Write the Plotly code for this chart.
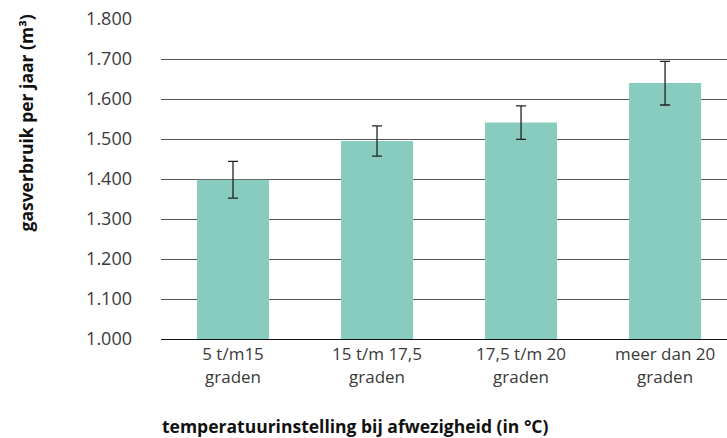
import plotly.graph_objects as go

categories = ["5 t/m15<br>graden", "15 t/m 17,5<br>graden", "17,5 t/m 20<br>graden", "meer dan 20<br>graden"]
values = [1398, 1495, 1541, 1640]
err_plus = [46, 38, 42, 54]
err_minus = [46, 38, 42, 55]
tick_vals = [1000, 1100, 1200, 1300, 1400, 1500, 1600, 1700, 1800]
tick_text = ["1.000", "1.100", "1.200", "1.300", "1.400", "1.500", "1.600", "1.700", "1.800"]

FONT = "Open Sans"

fig = go.Figure(go.Bar(
    x=list(range(len(categories))), y=values, base=0,
    marker=dict(color="#88cbbf", line=dict(width=0)),
    width=0.5,
    error_y=dict(type="data", symmetric=False, array=err_plus, arrayminus=err_minus,
                 color="#222222", thickness=1.3, width=5),
))

fig.update_layout(
    width=727, height=438,
    margin=dict(l=161, r=0, t=19, b=99),
    plot_bgcolor="white", paper_bgcolor="white",
    showlegend=False,
    font=dict(family=FONT, size=16, color="#333333"),
    xaxis=dict(
        tickvals=list(range(len(categories))), ticktext=categories,
        range=[-0.5, 3.43], showgrid=False, zeroline=False,
        showline=True, linecolor="#111111", linewidth=1,
        ticks="", tickfont=dict(size=17, color="#3a3a3a"),
    ),
    yaxis=dict(
        range=[1000, 1800], tickvals=tick_vals, ticktext=tick_text,
        showgrid=True, gridcolor="#555555", gridwidth=1,
        zeroline=False, showline=False, ticks="",
        ticklabelstandoff=28, tickfont=dict(size=18, color="#3a3a3a"),
    ),
    annotations=[
        dict(text="<b>gasverbruik per jaar (m³)</b>", xref="paper", yref="paper",
             x=-161/566, y=1.0, xanchor="left", yanchor="top", textangle=-90,
             showarrow=False, font=dict(family=FONT, size=17.5, color="#111111"),
             xshift=11, yshift=6),
        dict(text="<b>temperatuurinstelling bij afwezigheid (in °C)</b>", xref="paper", yref="paper",
             x=0, y=0, xanchor="left", yanchor="middle", showarrow=False,
             font=dict(family=FONT, size=17.5, color="#111111"), yshift=-87, xshift=-1),
    ],
)

fig.write_html("out.html", config={"displayModeBar": False},
               post_script="document.body.style.margin='0px';document.body.style.overflow='hidden';")
